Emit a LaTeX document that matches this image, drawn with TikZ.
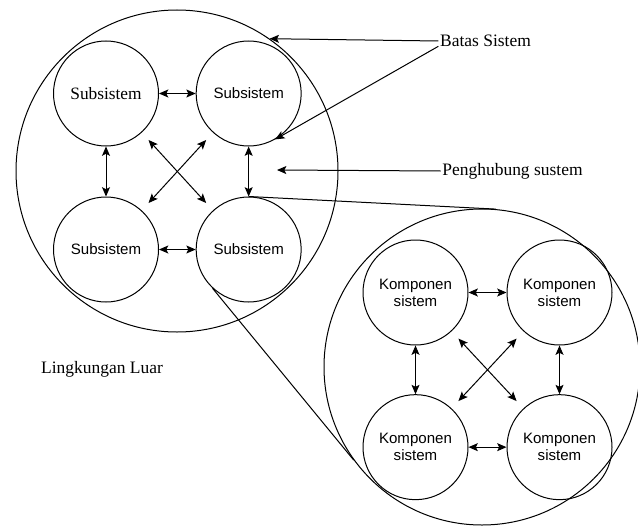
\documentclass[tikz,border=0pt]{standalone}
\usepackage{fontspec}
\setmainfont{Liberation Serif}
\setsansfont{Liberation Sans}
\usetikzlibrary{arrows.meta}

\begin{document}
\begin{tikzpicture}[x=0.75pt,y=-0.75pt,line width=0.75pt,
    >={Stealth[length=7pt,width=6pt,inset=1.5pt]},
    part/.style={draw,circle,minimum size=78.75pt,inner sep=0pt,align=center,
      font=\sffamily\fontsize{11.3}{12.8}\selectfont},
    note/.style={inner sep=1pt,font=\fontsize{13.1}{15}\selectfont},
    cross/.style={<->,shorten <=7.5pt,shorten >=7.5pt}]
      \useasboundingbox (0,0) rectangle (638,528);

      \node [draw,circle,minimum size=241.5pt] (sys) at (177,171) {};
      \node [draw,circle,minimum size=237pt] (det) at (482,367) {};

      \node [part] (s1) at (106,93.5) {\rmfamily\fontsize{13}{15}\selectfont Subsistem};
      \node [part,right of=s1,node distance=107pt] (s2) {Subsistem};
      \node [part,below of=s1,node distance=117pt] (s3) {Subsistem};
      \node [part,right of=s3,node distance=107pt] (s4) {Subsistem};

      \node [part] (k1) at (415.5,292.5) {Komponen\\sistem};
      \node [part,right of=k1,node distance=108pt] (k2) {Komponen\\sistem};
      \node [part,below of=k1,node distance=116pt] (k3) {Komponen\\sistem};
      \node [part,right of=k3,node distance=108pt] (k4) {Komponen\\sistem};

      \node [note] (batas) at (485.5,41) {Batas Sistem};
      \node [note] (hub) at (512.5,171) {Penghubung sustem};
      \node [note] (luar) at (102,369) {Lingkungan Luar};
      \coordinate (gap) at (277,170);

      \draw[<->] (s1) -- (s2);
      \draw[<->] (s1) -- (s3);
      \draw[<->] (s2) -- (s4);
      \draw[<->] (s3) -- (s4);
      \draw[cross] (s1) -- (s4);
      \draw[cross] (s2) -- (s3);

      \draw[<->] (k1) -- (k2);
      \draw[<->] (k1) -- (k3);
      \draw[<->] (k2) -- (k4);
      \draw[<->] (k3) -- (k4);
      \draw[cross] (k1) -- (k4);
      \draw[cross] (k2) -- (k3);

      % zoom onto one subsystem
      \draw (s4.north) -- (det.85);
      \draw (s4.227) -- (det.216);

      \draw[->] (batas.west) -- (sys.55);
      \draw[->] ([yshift=-4pt]batas.west) -- (s2.-60);
      \draw[->] (hub.west) -- (gap);
    \end{tikzpicture}
\end{document}
